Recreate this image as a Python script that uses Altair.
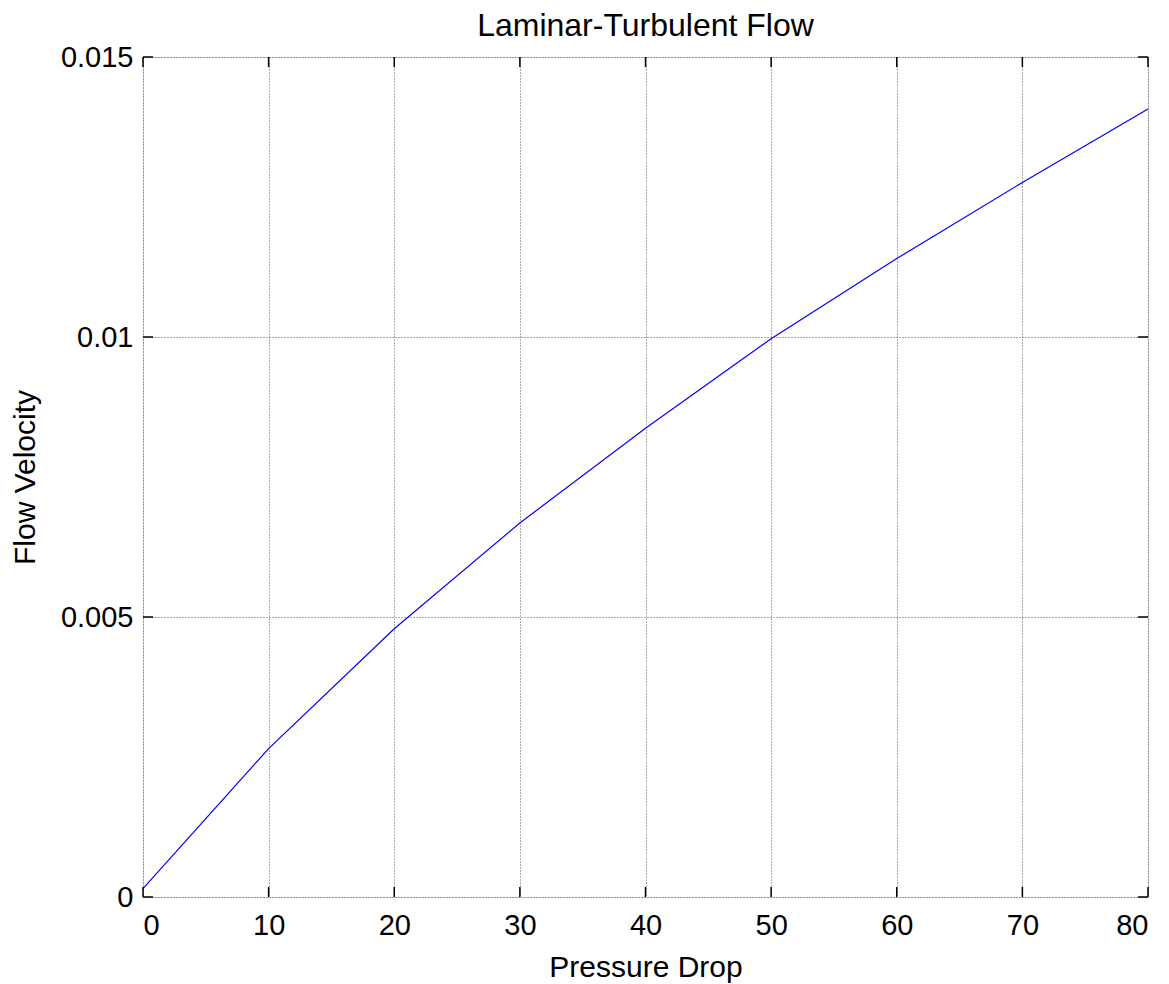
import altair as alt
import pandas as pd

# Data
pressure_drop = [0, 10, 20, 30, 40, 50, 60, 70, 80]
flow_velocity = [0.00015, 0.00265, 0.00479, 0.00668, 0.00837, 0.00997, 0.01140, 0.01276, 0.01407]

x_ticks = [0, 10, 20, 30, 40, 50, 60, 70, 80]
y_ticks = [0, 0.005, 0.01, 0.015]

W, H = 1005, 840
FONT = "Liberation Sans"
TL = 10  # inside tick length

df = pd.DataFrame({"p": pressure_drop, "v": flow_velocity})
xt = pd.DataFrame({"p": x_ticks})
yt = pd.DataFrame({"v": y_ticks})

xscale = alt.Scale(domain=[0, 80], nice=False, zero=False)
yscale = alt.Scale(domain=[0, 0.015], nice=False, zero=False)

x_axis = alt.Axis(
    values=x_ticks, title="Pressure Drop", format="d",
    grid=True, gridColor="#555555", gridDash=[1, 2], gridWidth=1,
    domain=False, ticks=False, labelPadding=14,
    labelFont=FONT, labelFontSize=29, labelColor="black",
    titleFont=FONT, titleFontSize=30, titleFontWeight="normal", titleColor="black",
    titlePadding=12,
)
y_axis = alt.Axis(
    values=y_ticks, title="Flow Velocity", format="~g",
    grid=True, gridColor="#555555", gridDash=[1, 2], gridWidth=1,
    domain=False, ticks=False, labelPadding=10,
    labelFont=FONT, labelFontSize=29, labelColor="black",
    titleFont=FONT, titleFontSize=30, titleFontWeight="normal", titleColor="black",
    titlePadding=20,
)

line = alt.Chart(df).mark_line(color="#0000ff", strokeWidth=1.2).encode(
    x=alt.X("p:Q", scale=xscale, axis=x_axis),
    y=alt.Y("v:Q", scale=yscale, axis=y_axis),
)

tick_style = dict(color="black", strokeWidth=1.5)
bottom_ticks = alt.Chart(xt).mark_rule(**tick_style).encode(
    x=alt.X("p:Q", scale=xscale), y=alt.value(H), y2=alt.value(H - TL))
top_ticks = alt.Chart(xt).mark_rule(**tick_style).encode(
    x=alt.X("p:Q", scale=xscale), y=alt.value(0), y2=alt.value(TL))
left_ticks = alt.Chart(yt).mark_rule(**tick_style).encode(
    y=alt.Y("v:Q", scale=yscale), x=alt.value(0), x2=alt.value(TL))
right_ticks = alt.Chart(yt).mark_rule(**tick_style).encode(
    y=alt.Y("v:Q", scale=yscale), x=alt.value(W), x2=alt.value(W - TL))

chart = alt.layer(line, bottom_ticks, top_ticks, left_ticks, right_ticks).properties(
    width=W, height=H,
    title=alt.TitleParams("Laminar-Turbulent Flow", font=FONT, fontSize=32,
                          fontWeight="normal", color="black", offset=0),
    autosize=alt.AutoSizeParams(type="none"),
    padding={"left": 135, "top": 49, "right": 12, "bottom": 87},
).configure_view(stroke="black", strokeWidth=1.5).configure(background="white")

chart.save("out.html", embed_options={"renderer": "svg", "actions": False})
